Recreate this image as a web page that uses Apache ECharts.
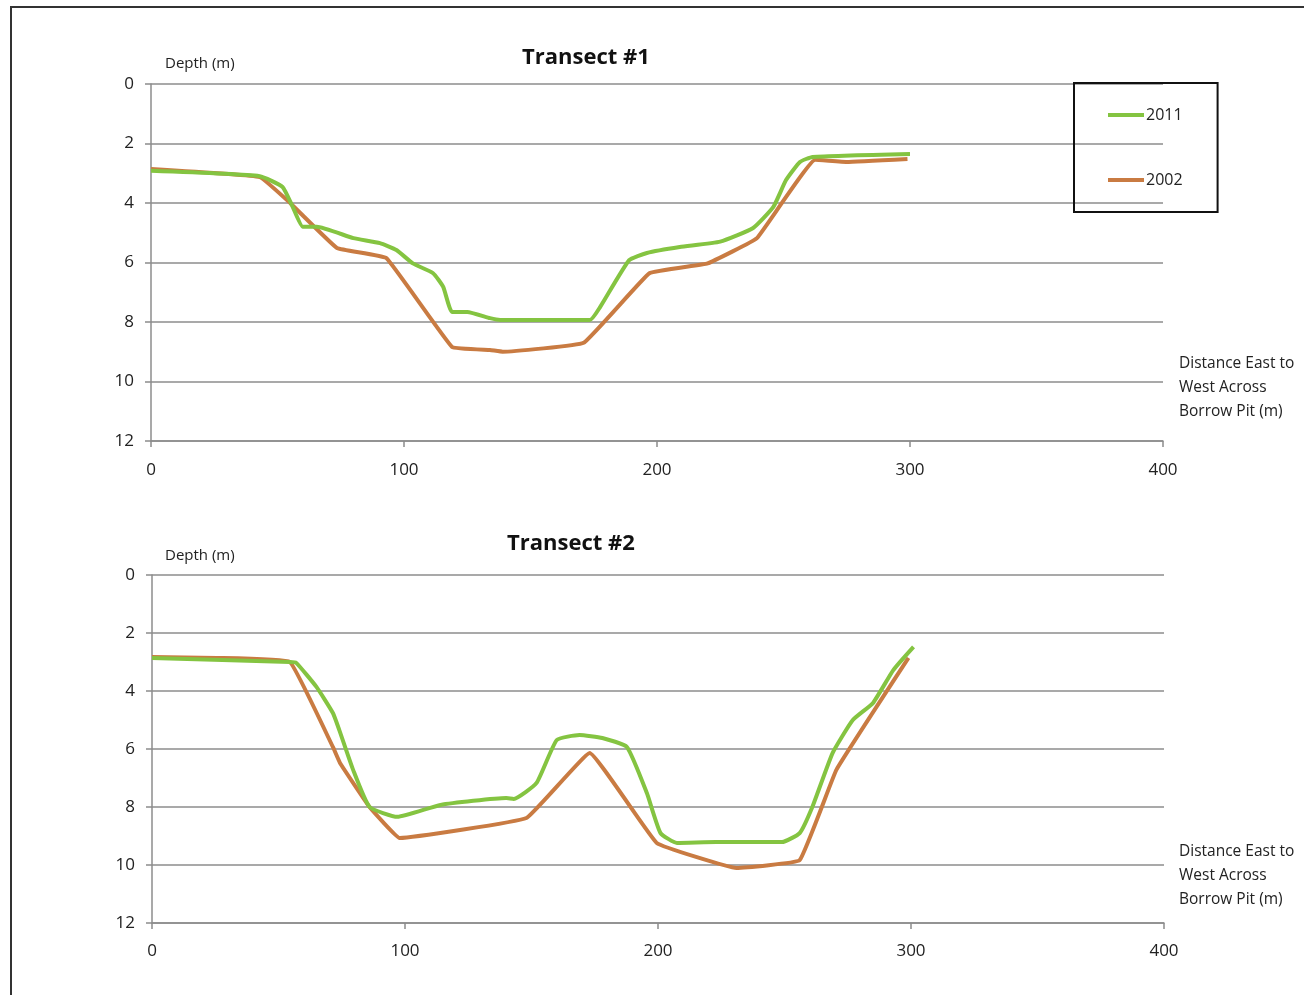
<!DOCTYPE html>
<html>
<head>
<meta charset="utf-8">
<style>
  html, body { margin: 0; padding: 0; background: #fff; }
  #chart { width: 1304px; height: 995px; }
</style>
<script src="https://cdn.jsdelivr.net/npm/echarts@6/dist/echarts.min.js"></script>
</head>
<body>
<div id="chart"></div>
<script>
// Borrow pit depth profiles, distance (m) vs depth (m)
const seriesNames = ['2011', '2002'];
const xTicks = [0, 100, 200, 300, 400];
const yTicks = [0, 2, 4, 6, 8, 10, 12];

// Transect #1
const t1_2011 = [
  [0, 2.92], [43, 3.1], [52, 3.46], [56, 4.13], [60, 4.8], [65.5, 4.8], [80, 5.18],
  [90.5, 5.35], [97, 5.58], [103.5, 6.03], [111.5, 6.36], [115.5, 6.82], [119, 7.66],
  [125, 7.66], [134, 7.87], [138, 7.93], [173.5, 7.93], [177.5, 7.5], [189, 5.92],
  [196, 5.68], [209, 5.48], [225, 5.3], [238, 4.84], [246, 4.13], [251, 3.23],
  [256.5, 2.62], [261.5, 2.45], [300, 2.35]
];
const t1_2002 = [
  [0, 2.86], [43, 3.13], [55, 4.0], [73.5, 5.51], [93, 5.85], [119, 8.84], [134, 8.94],
  [139, 9.0], [171, 8.7], [197, 6.36], [220, 6.03], [239.5, 5.18], [262.5, 2.55],
  [275, 2.62], [299, 2.52]
];

// Transect #2
const t2_2011 = [
  [0, 2.86], [54.5, 3.0], [57, 3.03], [65, 3.86], [71.5, 4.76], [74, 5.34], [79.5, 6.72],
  [86, 8.0], [97, 8.34], [114, 7.93], [140, 7.69], [143, 7.72], [152, 7.17], [160, 5.69],
  [169, 5.52], [178, 5.62], [187.7, 5.93], [195.6, 7.52], [201, 8.9], [207.5, 9.24],
  [223, 9.21], [236, 9.21], [249, 9.21], [256, 8.9], [261, 8.0], [269, 6.14],
  [277, 5.0], [285, 4.41], [293, 3.28], [301, 2.48]
];
const t2_2002 = [
  [0, 2.83], [25.7, 2.86], [54.5, 3.0], [71.5, 5.93], [74.3, 6.48], [86, 8.0], [98, 9.07],
  [148, 8.38], [173, 6.14], [199.5, 9.24], [231, 10.1], [256, 9.83], [270.5, 6.72],
  [299, 2.86]
];

const GREEN = '#84c441';
const ORANGE = '#c97b42';
const GRIDLINE = '#8c8c8c';
const FONT = '"Open Sans", "Noto Sans", sans-serif';

function xAxisFor(gridIndex, margin) {
  return {
    type: 'value', gridIndex, min: xTicks[0], max: xTicks[xTicks.length - 1], interval: 100,
    position: 'bottom',
    axisLine: { show: true, onZero: false, lineStyle: { color: GRIDLINE, width: 1.5 } },
    axisTick: { show: true, length: 6, lineStyle: { color: GRIDLINE, width: 1.5 } },
    axisLabel: { color: '#222', fontSize: 17, fontFamily: FONT, margin },
    splitLine: { show: false }
  };
}
function yAxisFor(gridIndex) {
  return {
    type: 'value', gridIndex, inverse: true, min: yTicks[0], max: yTicks[yTicks.length - 1], interval: 2,
    axisLine: { show: true, lineStyle: { color: GRIDLINE, width: 1.5 } },
    axisTick: { show: true, length: 6, lineStyle: { color: GRIDLINE, width: 1.5 } },
    axisLabel: { color: '#222', fontSize: 17, fontFamily: FONT, margin: 17 },
    splitLine: { show: true, lineStyle: { color: GRIDLINE, width: 1.5 } }
  };
}
function line(name, data, color, idx, smooth) {
  return {
    name, type: 'line', data, xAxisIndex: idx, yAxisIndex: idx,
    showSymbol: false, symbol: 'none', smooth,
    lineStyle: { color, width: 4 }, itemStyle: { color },
    z: name === '2011' ? 3 : 2
  };
}
function note(text, left, top, opts) {
  return Object.assign({
    text, left, top,
    textStyle: { fontSize: 15, fontWeight: 'normal', color: '#222', fontFamily: FONT }
  }, opts || {});
}

const distLabel = 'Distance East to\nWest Across\nBorrow Pit (m)';
const noteStyle = { fontSize: 15.5, fontWeight: 'normal', color: '#222', fontFamily: FONT, lineHeight: 24 };
const titleStyle = { fontSize: 22, fontWeight: 'bold', color: '#111', fontFamily: FONT };

const chart = echarts.init(document.getElementById('chart'));
chart.setOption({
  backgroundColor: '#fff',
  animation: false,
  title: [
    note('Transect #1', 517, 42, { textStyle: titleStyle }),
    note('Transect #2', 502, 528, { textStyle: titleStyle }),
    note('Depth (m)', 160, 51),
    note('Depth (m)', 160, 543),
    { text: distLabel, left: 1174, top: 347, textStyle: noteStyle },
    { text: distLabel, left: 1174, top: 835, textStyle: noteStyle }
  ],
  legend: {
    data: seriesNames,
    orient: 'vertical',
    left: 1074, top: 83,
    padding: [24, 35, 24, 34],
    itemGap: 49,
    itemWidth: 36, itemHeight: 4,
    icon: 'rect',
    borderColor: '#111', borderWidth: 2,
    textStyle: { fontSize: 16, color: '#222', fontFamily: FONT, padding: [0, 0, 0, -3] }
  },
  grid: [
    { left: 151, right: 141, top: 84, height: 357 },
    { left: 152, right: 140, top: 575, height: 348 }
  ],
  xAxis: [xAxisFor(0, 21), xAxisFor(1, 20)],
  yAxis: [yAxisFor(0), yAxisFor(1)],
  series: [
    line('2002', t1_2002, ORANGE, 0, 0.08),
    line('2011', t1_2011, GREEN, 0, 0.15),
    line('2002', t2_2002, ORANGE, 1, 0.08),
    line('2011', t2_2011, GREEN, 1, 0.15)
  ],
  graphic: [
    {
      type: 'rect', silent: true, z: -1,
      shape: { x: 11, y: 7, width: 1310, height: 1000 },
      style: { fill: 'none', stroke: '#333', lineWidth: 2 }
    }
  ]
});
</script>
</body>
</html>
